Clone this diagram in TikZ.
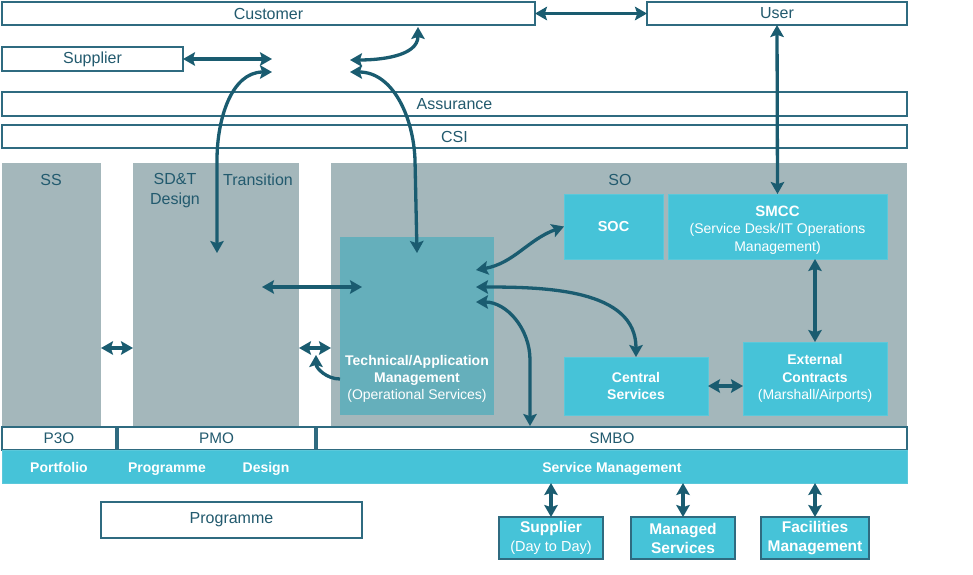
\documentclass[tikz,border=0pt]{standalone}
\usepackage{fontspec}
\setmainfont{Liberation Sans}
\usetikzlibrary{arrows.meta}
\definecolor{panelc}{HTML}{A4B7BB}
\definecolor{techc}{HTML}{65AFBB}
\definecolor{cyanc}{HTML}{46C3D8}
\definecolor{cyanedge}{HTML}{5BC8DA}
\definecolor{bord}{HTML}{2F6B80}
\definecolor{txt}{HTML}{225A6E}
\definecolor{arrc}{HTML}{1A5C70}
\begin{document}
\begin{tikzpicture}[x=1pt,y=-1pt,
  wbox/.style={draw=bord, fill=white, line width=1.6pt, inner sep=0pt, outer sep=0pt, text=txt, font=\fontsize{16}{19}\selectfont},
  wboxs/.style={wbox, font=\fontsize{15.3}{18}\selectfont},
  panel/.style={fill=panelc, draw=none, inner sep=0pt, outer sep=0pt},
  cbox/.style={fill=cyanc, draw=cyanedge, line width=0.8pt, inner sep=0pt, outer sep=0pt, text=white, align=center, font=\fontsize{14}{17.5}\selectfont},
  dbox/.style={fill=cyanc, draw=bord, line width=1.6pt, inner sep=0pt, outer sep=0pt, text=white, align=center, font=\fontsize{14.5}{19}\selectfont},
  lbl/.style={text=txt, inner sep=0pt, align=center, font=\fontsize{16}{20}\selectfont},
  wlbl/.style={text=white, inner sep=0pt, anchor=base, font=\fontsize{14}{17.5}\selectfont\bfseries},
  tip/.tip={Stealth[length=12pt,width=13.5pt,inset=2.2pt]},
  arr/.style={line width=3.3pt, draw=arrc, tip-tip},
  arr1/.style={line width=3.3pt, draw=arrc, -tip}
]
\useasboundingbox (0,0) rectangle (973,574);

% top boxes
\node[wbox, minimum width=533pt, minimum height=23pt] (cust) at (268.5,13.5) {Customer};
\node[wbox, minimum width=260pt, minimum height=23pt] (user) at (777,13.5) {User};
\node[wbox, minimum width=181pt, minimum height=24pt] (supp) at (92.5,59) {Supplier};
\node[wbox, minimum width=905pt, minimum height=24pt] (assur) at (454.5,104) {Assurance};
\node[wbox, minimum width=905pt, minimum height=23pt] (csi) at (454.5,136.5) {CSI};

% panels
\node[panel, minimum width=99pt, minimum height=263pt] (ss) at (51.5,294.5) {};
\node[panel, minimum width=166pt, minimum height=263pt] (sdt) at (216,294.5) {};
\node[panel, minimum width=576pt, minimum height=263pt] (so) at (619,294.5) {};
\node[lbl] (lss) at (51,179.5) {SS};
\node[lbl] (lsdt) at (175,191) {SD\&T\\Design};
\node[lbl] (ltr) at (258,179.5) {Transition};
\node[lbl] (lso) at (620,179.5) {SO};

% SO content
\node[fill=techc, inner sep=0pt, outer sep=0pt, minimum width=154pt, minimum height=178pt] (tech) at (417,326) {};
\node[text=white, align=center, inner sep=0pt, font=\fontsize{14}{17}\selectfont] (ltech) at (417,378.5)
  {\bfseries Technical/Application\\\bfseries Management\\(Operational Services)};
\node[cbox, minimum width=99pt, minimum height=65pt, font=\fontsize{14.5}{17.5}\selectfont\bfseries] (soc) at (613.5,226.5) {SOC};
\node[cbox, minimum width=219pt, minimum height=65pt] (smcc) at (777.5,226.5) {};
\node[text=white, align=center, inner sep=0pt, font=\fontsize{14}{17.5}\selectfont] (lsmcc) at (777.5,230)
  {\fontsize{15}{17.5}\selectfont\bfseries SMCC\\(Service Desk/IT Operations\\Management)};
\node[cbox, minimum width=144pt, minimum height=58pt, font=\fontsize{14}{17.5}\selectfont\bfseries] (central) at (636,386) {Central\\Services};
\node[cbox, minimum width=144pt, minimum height=73pt] (ext) at (815,378.5)
  {\bfseries External\\\bfseries Contracts\\(Marshall/Airports)};

% bottom rows
\node[wboxs, minimum width=114pt, minimum height=23pt] (p3o) at (59,438.5) {P3O};
\node[wboxs, minimum width=197pt, minimum height=23pt] (pmo) at (216.5,438.5) {PMO};
\node[wboxs, minimum width=590pt, minimum height=23pt] (smbo) at (612,438.5) {SMBO};
\node[fill=cyanc, draw=cyanedge, line width=0.6pt, inner sep=0pt, outer sep=0pt, minimum width=905pt, minimum height=33pt] (sm) at (454.5,466.5) {};
\node[wlbl] (lpf) at (59,472) {Portfolio};
\node[wlbl] (lpg) at (167,472) {Programme};
\node[wlbl] (lds) at (266,472) {Design};
\node[wlbl] (lsm) at (612,472) {Service Management};

\node[wbox, minimum width=261pt, minimum height=36pt] (prog) at (231.5,520) {Programme};
\node[dbox, minimum width=104pt, minimum height=42pt] (supd) at (551,538)
  {\fontsize{15.5}{19}\selectfont\bfseries Supplier\\(Day to Day)};
\node[dbox, minimum width=104pt, minimum height=42pt, font=\fontsize{15.5}{19}\selectfont\bfseries] (mans) at (683,538) {Managed\\Services};
\node[dbox, minimum width=108pt, minimum height=42pt, font=\fontsize{15.5}{19}\selectfont\bfseries] (facm) at (815,538) {Facilities\\Management};

% helper coordinates
\coordinate (sa) at (272,59);
\coordinate (sb) at (272,72);
\coordinate (ca) at (350,60);
\coordinate (cb) at (350,72);
\coordinate (custin) at (418,27);
\coordinate (sdtin) at (217,253);
\coordinate (techin) at (417,253);
\coordinate (ta) at (476,270);
\coordinate (tb) at (476,287);
\coordinate (tc) at (476,302);
\coordinate (sdl) at (262,287);
\coordinate (tcl) at (362,287);
\coordinate (y348) at (0,348);
\coordinate (hk) at (0,379);
\coordinate (hkend) at (316,355);

% connectors
\draw[arr] (cust.east) -- (user.west);
\draw[arr] (supp.east) -- (sa);
\draw[arr] (sb) to[out=180,in=90] (217,160) -- (sdtin);
\draw[arr] (ca) to[out=0,in=-90] (custin);
\draw[arr] (cb) to[out=0,in=92] (415,160) -- (techin);
\draw[arr] (user.south) -- (smcc.north);
\draw[arr] (ext.north |- smcc.south) -- (ext.north);
\draw[arr] (central.east) -- (ext.west |- central.east);
\draw[arr] (ta) to[out=10,in=200] (soc.west);
\draw[arr] (tb) to[out=0,in=90] (central.north);
\draw[arr] (tc) to[out=0,in=90] (530,360) -- (530,426);
\draw[arr] (sdl) -- (tcl);
\draw[arr] (ss.east |- y348) -- (sdt.west |- y348);
\draw[arr] (sdt.east |- y348) -- (so.west |- y348);
\draw[arr1] (tech.west |- hk) to[out=180,in=-90] (hkend);
\draw[arr] (supd.north |- sm.south) -- (supd.north);
\draw[arr] (mans.north |- sm.south) -- (mans.north);
\draw[arr] (facm.north |- sm.south) -- (facm.north);
\end{tikzpicture}
\end{document}
